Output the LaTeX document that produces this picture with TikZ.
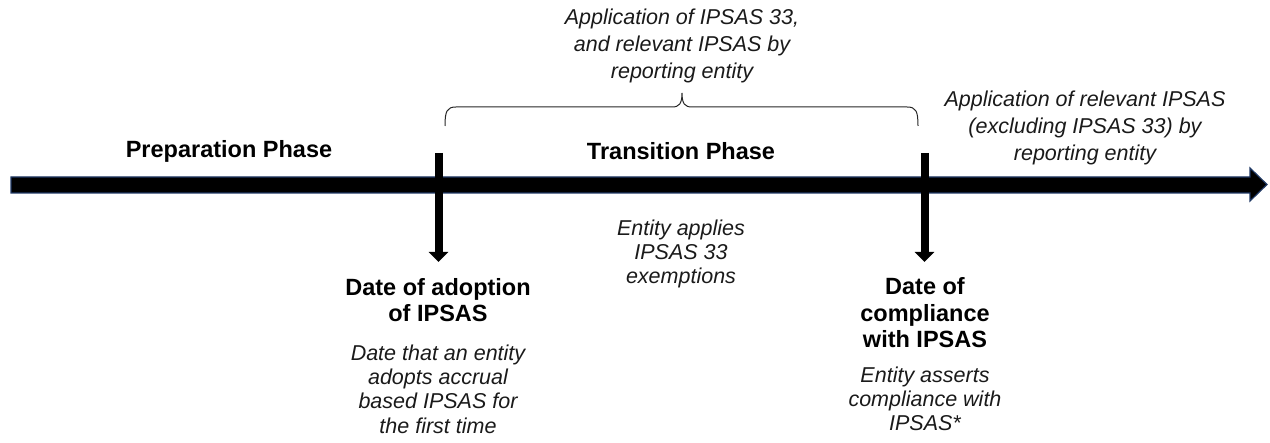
\documentclass[tikz,border=0pt]{standalone}
\usepackage{fontspec}
\setmainfont{Liberation Sans}
\usetikzlibrary{arrows.meta}
\definecolor{navy}{HTML}{1F3864}
\definecolor{txt}{HTML}{1A1A1A}
\tikzset{
  itext/.style={align=center, inner sep=0pt, text=txt, font=\fontsize{21.5}{24.3}\selectfont\itshape},
  iwide/.style={itext, font=\fontsize{21.5}{26.8}\selectfont\itshape},
  btext/.style={align=center, inner sep=0pt, text=black, font=\fontsize{23.5}{26.5}\selectfont\bfseries},
  marker/.style={line width=8pt, -{Triangle[width=19pt,length=10pt]}},
  bracestyle/.style={line width=1pt, draw=black!85},
}
\begin{document}
\begin{tikzpicture}[x=1pt,y=-1pt]
\useasboundingbox (0,0) rectangle (1270,443);
% main timeline arrow
\path[fill=black, draw=navy, line width=1.2pt]
  (11,177) -- (1250,177) -- (1250,168) -- (1267,184.5) -- (1250,201) -- (1250,193) -- (11,193) -- cycle;
% markers
\coordinate (m1top) at (438.5,153);
\coordinate (m1bot) at (438.5,262);
\coordinate (m2top) at (924.5,153);
\coordinate (m2bot) at (924.5,262);
\draw[marker] (m1top) -- (m1bot);
\draw[marker] (m2top) -- (m2bot);
% brace
\draw[bracestyle] (445,126) .. controls (445,111) and (447,107) .. (456,107) -- (672,107)
  .. controls (679,107) and (682,104) .. (682,93) .. controls (682,104) and (685,107) .. (692,107)
  -- (907,107) .. controls (916,107) and (918,111) .. (918,126);
% texts
\node[iwide] (top) at (682,46) {Application of IPSAS 33,\\and relevant IPSAS by\\reporting entity};
\node[btext] (prep) at (229,151) {Preparation Phase};
\node[btext] (trans) at (681,151) {Transition Phase};
\node[iwide] (right) at (1085,128) {Application of relevant IPSAS\\(excluding IPSAS 33) by\\reporting entity};
\node[itext] (exempt) at (681,254) {Entity applies\\IPSAS 33\\exemptions};
\node[btext] (adopt) at (438,300) {Date of adoption\\of IPSAS};
\node[itext] (adoptd) at (438,389) {Date that an entity\\adopts accrual\\based IPSAS for\\the first time};
\node[btext] (comp) at (925,313) {Date of\\compliance\\with IPSAS};
\node[itext] (compd) at (925,399) {Entity asserts\\compliance with\\IPSAS*};
\end{tikzpicture}
\end{document}
